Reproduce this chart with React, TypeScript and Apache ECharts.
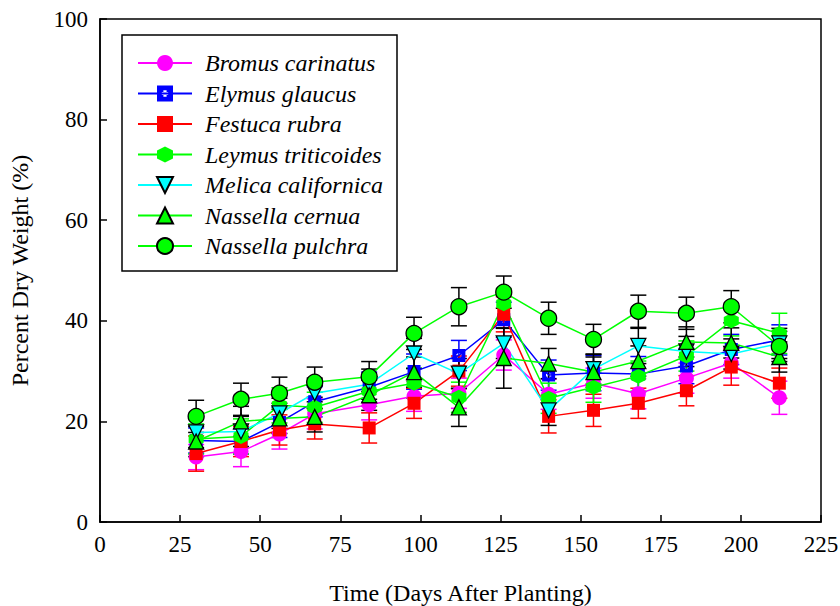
import React, { useEffect, useRef } from "react";
import * as echarts from "echarts";

const days = [30, 44, 56, 67, 84, 98, 112, 126, 140, 154, 168, 183, 197, 212];

const bromus = [12.9, 14.0, 17.5, 21.5, 23.3, 25.0, 25.6, 33.2, 25.4, 27.6, 25.5, 28.6, 31.6, 24.7];
const bromusErr = [2.5, 3.0, 3.0, 3.0, 3.0, 3.0, 3.0, 3.0, 3.0, 3.0, 3.0, 3.0, 3.0, 3.3];

const elymus = [16.2, 16.0, 19.8, 23.9, 26.8, 29.9, 33.1, 40.2, 29.2, 29.6, 29.4, 31.0, 34.3, 36.2];
const elymusErr = [2.5, 2.5, 3.0, 3.0, 3.0, 3.5, 3.0, 3.5, 3.0, 3.5, 3.5, 3.5, 3.0, 3.0];

const festuca = [13.6, 16.0, 18.3, 19.5, 18.7, 23.6, 30.0, 41.3, 21.0, 22.2, 23.6, 26.1, 30.8, 27.6];
const festucaErr = [3.5, 3.0, 3.0, 3.0, 3.0, 3.0, 3.0, 3.5, 3.3, 3.2, 3.0, 3.0, 3.6, 3.0];

const leymus = [16.5, 17.0, 23.2, 22.8, 26.0, 27.6, 24.8, 43.4, 24.6, 26.8, 29.0, 33.0, 40.0, 37.5];
const leymusErr = [3.0, 3.5, 3.5, 3.0, 3.0, 3.0, 3.0, 3.0, 3.0, 3.0, 3.0, 3.0, 3.0, 4.0];

const melica = [17.8, 18.0, 21.6, 25.6, 27.4, 33.5, 29.5, 35.5, 22.2, 30.4, 35.0, 33.9, 33.4, 35.5];
const melicaErr = [3.0, 3.0, 3.0, 3.0, 3.0, 3.0, 3.0, 3.0, 3.0, 3.0, 3.5, 3.0, 3.0, 3.0];

const cernua = [16.0, 20.0, 20.6, 20.9, 25.2, 29.8, 22.8, 32.6, 31.5, 29.8, 32.0, 35.8, 35.6, 32.8];
const cernuaErr = [3.0, 3.0, 3.0, 3.0, 3.0, 3.0, 3.8, 6.0, 3.0, 3.0, 3.0, 3.0, 3.0, 3.0];

const pulchra = [21.0, 24.4, 25.6, 27.8, 28.9, 37.5, 42.8, 45.7, 40.5, 36.3, 41.9, 41.5, 42.8, 34.9];
const pulchraErr = [3.2, 3.2, 3.2, 3.0, 3.0, 3.2, 3.8, 3.2, 3.2, 3.0, 3.2, 3.2, 3.2, 3.0];

const xTicks = { min: 0, max: 225, interval: 25 };
const yTicks = { min: 0, max: 100, interval: 20 };

const FONT = "'Liberation Serif', 'Times New Roman', serif";

const squarePlus =
  "path://M0,0 H10 V10 H0 Z M4,3 V4 H3 V6 H4 V7 H6 V6 H7 V4 H6 V3 Z";
const hexagon = "path://M5,0 L9.33,2.5 L9.33,7.5 L5,10 L0.67,7.5 L0.67,2.5 Z";

type Spec = {
  name: string;
  values: number[];
  errs: number[];
  color: string;
  symbol: string;
  size: number;
  border: boolean;
  errColor: string;
};

const specs: Spec[] = [
  { name: "Bromus carinatus", values: bromus, errs: bromusErr, color: "#ff00ff", symbol: "circle", size: 15, border: false, errColor: "#ff00ff" },
  { name: "Elymus glaucus", values: elymus, errs: elymusErr, color: "#0000ff", symbol: squarePlus, size: 13, border: false, errColor: "#0000ff" },
  { name: "Festuca rubra", values: festuca, errs: festucaErr, color: "#ff0000", symbol: "rect", size: 13, border: false, errColor: "#ff0000" },
  { name: "Leymus triticoides", values: leymus, errs: leymusErr, color: "#00ff00", symbol: hexagon, size: 15, border: false, errColor: "#00ff00" },
  { name: "Melica californica", values: melica, errs: melicaErr, color: "#00ffff", symbol: "triangle", size: 15, border: true, errColor: "#000000" },
  { name: "Nassella cernua", values: cernua, errs: cernuaErr, color: "#00ff00", symbol: "triangle", size: 15, border: true, errColor: "#000000" },
  { name: "Nassella pulchra", values: pulchra, errs: pulchraErr, color: "#00ff00", symbol: "circle", size: 16, border: true, errColor: "#000000" },
];

export default function App() {
  const ref = useRef<HTMLDivElement>(null);
  useEffect(() => {
    if (!ref.current) return;
    const chart = echarts.init(ref.current, null, { renderer: "svg" });

    const errSeries = specs.map((s) => ({
      type: "custom",
      name: s.name + " err",
      z: 1,
      silent: true,
      data: days.map((d, i) => [d, s.values[i] - s.errs[i], s.values[i] + s.errs[i]]),
      encode: { x: 0, y: [1, 2] },
      renderItem: (params: any, api: any) => {
        const x = api.value(0);
        const lo = api.coord([x, api.value(1)]);
        const hi = api.coord([x, api.value(2)]);
        const hw = 8;
        const style = { stroke: s.errColor, lineWidth: 1.5 };
        return {
          type: "group",
          children: [
            { type: "line", shape: { x1: lo[0], y1: lo[1], x2: hi[0], y2: hi[1] }, style },
            { type: "line", shape: { x1: lo[0] - hw, y1: lo[1], x2: lo[0] + hw, y2: lo[1] }, style },
            { type: "line", shape: { x1: hi[0] - hw, y1: hi[1], x2: hi[0] + hw, y2: hi[1] }, style },
          ],
        };
      },
    }));

    const lineSeries = specs.map((s) => ({
      type: "line",
      name: s.name,
      z: 3,
      data: days.map((d, i) => [d, s.values[i]]),
      symbol: s.symbol,
      symbolSize: s.size,
      symbolRotate: s.name === "Melica californica" ? 180 : 0,
      showAllSymbol: true,
      lineStyle: { color: s.color, width: 1.5 },
      itemStyle: {
        color: s.color,
        borderColor: s.border ? "#000000" : s.color,
        borderWidth: s.border ? 1.3 : 0,
        opacity: 1,
      },
      emphasis: { disabled: true },
    }));

    chart.setOption({
      animation: false,
      backgroundColor: "#ffffff",
      grid: {
        left: 100,
        right: 19,
        top: 19,
        bottom: 84,
        containLabel: false,
        outerBoundsMode: "none",
        show: true,
        borderColor: "#000",
        borderWidth: 1.5,
      },
      xAxis: {
        type: "value",
        min: xTicks.min,
        max: xTicks.max,
        interval: xTicks.interval,
        name: "Time (Days After Planting)",
        nameLocation: "middle",
        nameGap: 59,
        nameTextStyle: { fontFamily: FONT, fontSize: 24, color: "#000" },
        axisLine: { lineStyle: { color: "#000", width: 1.5 } },
        axisTick: { inside: true, length: 7, lineStyle: { color: "#000", width: 1.5 } },
        axisLabel: { fontFamily: FONT, fontSize: 23, color: "#000", margin: 11 },
        splitLine: { show: false },
      },
      yAxis: {
        type: "value",
        min: yTicks.min,
        max: yTicks.max,
        interval: yTicks.interval,
        name: "Percent Dry Weight (%)",
        nameLocation: "middle",
        nameGap: 68,
        nameRotate: 90,
        nameTextStyle: { fontFamily: FONT, fontSize: 24, color: "#000" },
        axisLine: { lineStyle: { color: "#000", width: 1.5 } },
        axisTick: { inside: true, length: 7, lineStyle: { color: "#000", width: 1.5 } },
        axisLabel: { fontFamily: FONT, fontSize: 23, color: "#000", margin: 12 },
        splitLine: { show: false },
      },
      legend: {
        orient: "vertical",
        left: 137,
        top: 51,
        padding: 0,
        itemWidth: 54,
        itemHeight: 20,
        itemGap: 6.5,
        data: specs.map((s) => s.name),
        selectedMode: false,
        textStyle: {
          fontFamily: FONT,
          fontStyle: "italic",
          fontSize: 24,
          color: "#000",
          padding: [0, 0, 0, 8],
        },
      },
      graphic: [
        {
          type: "rect",
          shape: { x: 122, y: 35, width: 275, height: 236 },
          style: { fill: "none", stroke: "#000", lineWidth: 1.5 },
          z: 10,
        },
      ],
      series: [...errSeries, ...lineSeries],
    });
    return () => chart.dispose();
  }, []);
  return (
    <div
      ref={ref}
      style={{ position: "absolute", left: 0, top: 0, width: 840, height: 606 }}
    />
  );
}
